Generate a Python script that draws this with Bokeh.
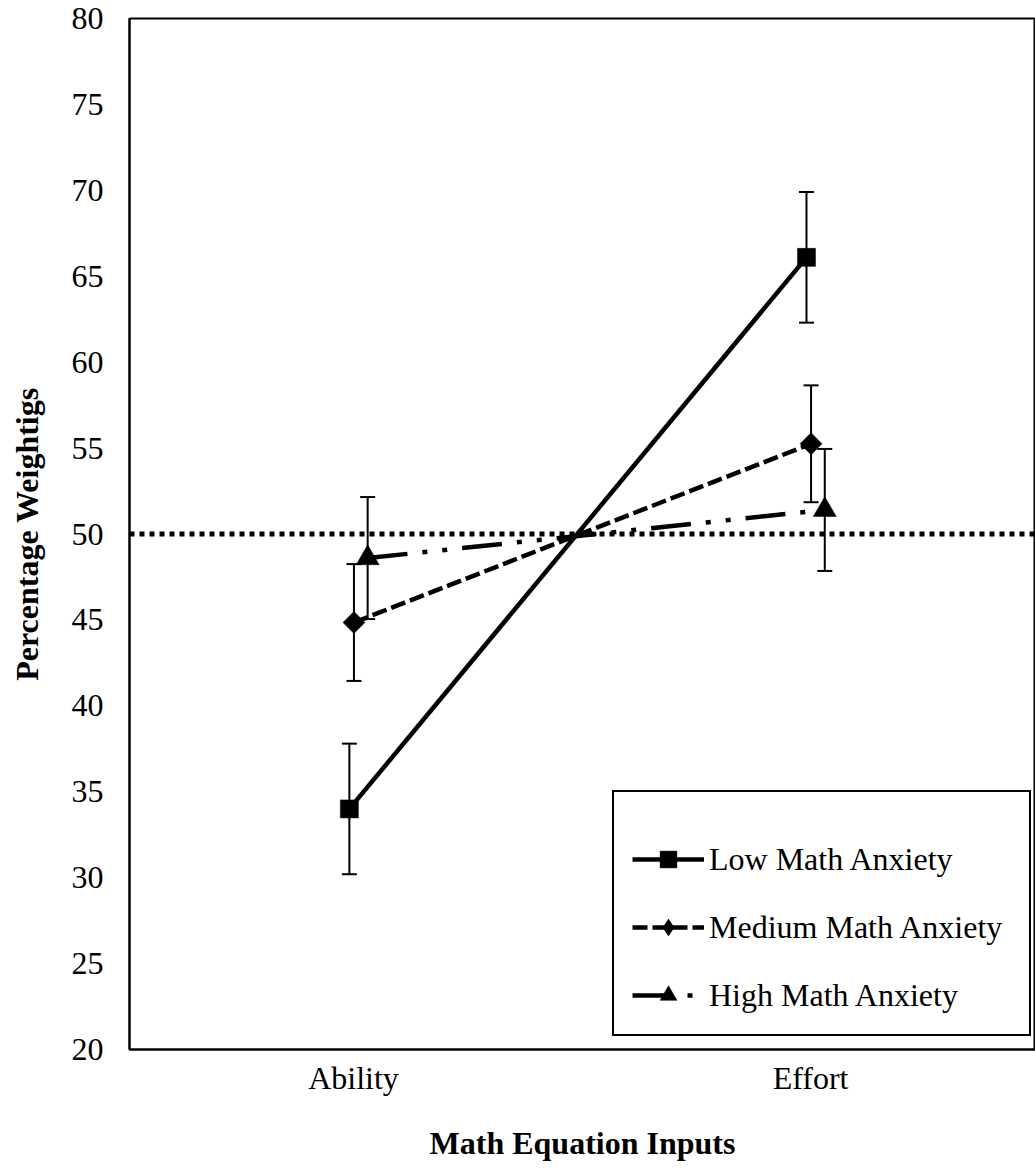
import math

from bokeh.plotting import figure
from bokeh.models import (ColumnDataSource, Range1d, FixedTicker, Span, Whisker,
                          TeeHead, Legend, LegendItem)
from bokeh.embed import file_html
from bokeh.resources import INLINE

# Equation inputs (x categories) and anxiety groups
inputs = ["Ability", "Effort"]
groups = ["Low Math Anxiety", "Medium Math Anxiety", "High Math Anxiety"]

# Mean percentage weightings and error-bar half-widths per group
low_means = [34.0, 66.1]
low_errors = [3.8, 3.8]
medium_means = [44.85, 55.25]
medium_errors = [3.4, 3.4]
high_means = [48.6, 51.4]
high_errors = [3.55, 3.55]

reference_level = 50
y_ticks = list(range(20, 81, 5))

FONT = "Liberation Serif"
TEXT_SIZE = "32px"

p = figure(width=1035, height=1169, output_backend="svg", toolbar_location=None,
           x_range=Range1d(-0.49, 1.492), y_range=Range1d(20, 80),
           min_border_left=129, min_border_right=0, min_border_top=18,
           min_border_bottom=120,
           x_axis_label="Math Equation Inputs", y_axis_label="Percentage Weightigs")

p.background_fill_color = "white"
p.border_fill_color = "white"
p.outline_line_color = "black"
p.outline_line_width = 2
p.grid.visible = False

# dotted 50% reference line
p.add_layout(Span(location=reference_level, dimension="width", line_color="black",
                  line_width=5, line_dash="5 5", level="underlay"))

series = [
    dict(name=groups[0], means=low_means, errs=low_errors, shift=-0.009,
         dash="solid", marker="square", size=18, angle=0.0, key_marker=None),
    dict(name=groups[1], means=medium_means, errs=medium_errors, shift=0.001,
         dash="15 5", marker="square", size=15.5, angle=math.pi / 4,
         key_marker="diamond"),
    dict(name=groups[2], means=high_means, errs=high_errors, shift=0.031,
         dash="40 15 5 15 5 15", marker="triangle", size=23, angle=0.0,
         key_marker=None),
]

items = []
for s in series:
    xs = [i + s["shift"] for i in range(len(inputs))]
    src = ColumnDataSource(dict(
        x=xs,
        y=s["means"],
        upper=[m + e for m, e in zip(s["means"], s["errs"])],
        lower=[m - e for m, e in zip(s["means"], s["errs"])],
    ))
    p.add_layout(Whisker(source=src, base="x", upper="upper", lower="lower",
                         dimension="height", line_color="black", line_width=2,
                         upper_head=TeeHead(size=15, line_width=2, line_color="black"),
                         lower_head=TeeHead(size=15, line_width=2, line_color="black"),
                         level="underlay"))
    line_r = p.line("x", "y", source=src, line_color="black", line_width=4.5,
                    line_dash=s["dash"])
    mark_r = p.scatter("x", "y", source=src, marker=s["marker"], size=s["size"],
                       angle=s["angle"], fill_color="black", line_color="black",
                       line_width=0.5)
    key_r = mark_r
    if s["key_marker"] is not None:
        # legend keys are drawn unrotated, so give the key its own marker shape
        key_r = p.scatter("x", "y", source=src, marker=s["key_marker"],
                          size=s["size"], fill_color="black", line_color="black",
                          line_width=0.5, visible=False)
    items.append(LegendItem(label=s["name"], renderers=[line_r, key_r]))

legend = Legend(items=items, location=(483, 13), margin=0,
                border_line_color="black", border_line_width=2,
                border_line_alpha=1.0,
                background_fill_color="white", background_fill_alpha=1.0,
                label_text_font=FONT, label_text_font_size=TEXT_SIZE,
                label_text_color="black",
                glyph_width=72, glyph_height=42, label_standoff=5,
                label_width=302, padding=18, spacing=26,
                title=" ", title_text_font_size="20px", title_standoff=5)
p.add_layout(legend)

for ax in (p.xaxis[0], p.yaxis[0]):
    ax.axis_line_color = "black"
    ax.axis_line_width = 2
    ax.major_tick_out = 0
    ax.major_tick_in = 0
    ax.minor_tick_out = 0
    ax.minor_tick_in = 0
    ax.major_tick_line_color = None
    ax.minor_tick_line_color = None
    ax.major_label_text_font = FONT
    ax.major_label_text_font_size = TEXT_SIZE
    ax.major_label_text_color = "black"
    ax.axis_label_text_font = FONT
    ax.axis_label_text_font_size = TEXT_SIZE
    ax.axis_label_text_font_style = "bold"
    ax.axis_label_text_color = "black"

p.yaxis.ticker = FixedTicker(ticks=y_ticks)
p.yaxis.major_label_standoff = 26
p.yaxis.axis_label_standoff = 24

p.xaxis.ticker = FixedTicker(ticks=list(range(len(inputs))))
p.xaxis.major_label_overrides = {i: name for i, name in enumerate(inputs)}
p.xaxis.major_label_standoff = 10
p.xaxis.axis_label_standoff = 26

open("out.html", "w").write(file_html(p, INLINE))
